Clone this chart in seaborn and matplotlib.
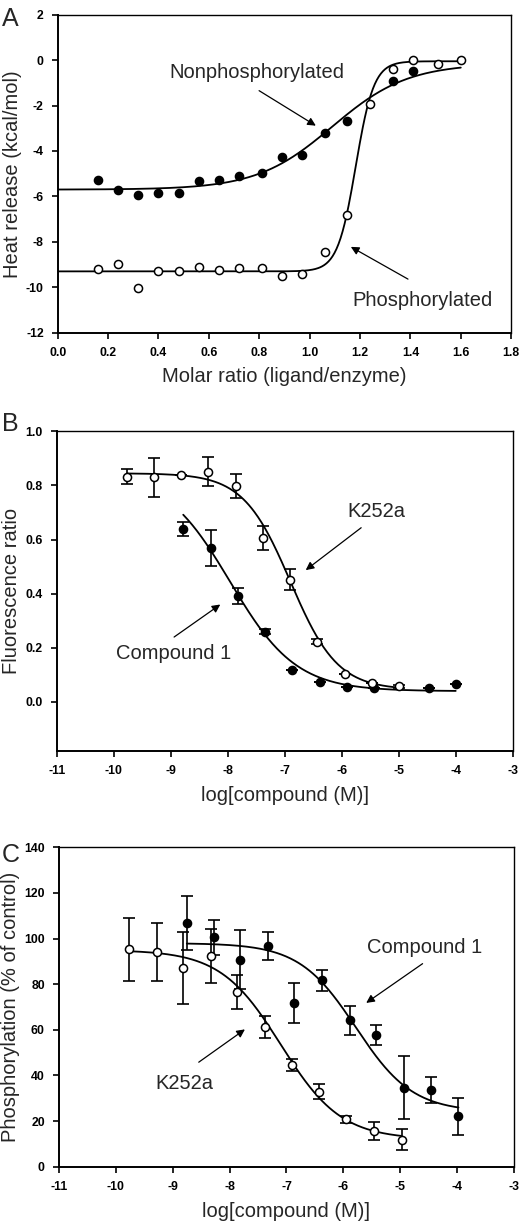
import numpy as np
import pandas as pd
import matplotlib
matplotlib.use("Agg")
import matplotlib.pyplot as plt
import seaborn as sns

# ---- panel A: ITC heat release ----
a_x_open = [0.16, 0.24, 0.32, 0.40, 0.48, 0.56, 0.64, 0.72, 0.81, 0.89, 0.97, 1.06, 1.15,
            1.24, 1.33, 1.41, 1.51, 1.60]
a_y_open = [-9.21, -8.99, -10.03, -9.27, -9.27, -9.11, -9.24, -9.14, -9.14, -9.50, -9.40, -8.46, -6.82,
            -1.94, -0.41, -0.01, -0.18, 0.0]
a_x_fill = [0.16, 0.24, 0.32, 0.40, 0.48, 0.56, 0.64, 0.72, 0.81, 0.89, 0.97, 1.06, 1.15, 1.33, 1.41]
a_y_fill = [-5.26, -5.72, -5.93, -5.87, -5.87, -5.34, -5.26, -5.09, -4.99, -4.26, -4.19, -3.19, -2.69,
            -0.91, -0.47]
# fitted curve parameters (bottom, top, midpoint, width)
a_fit_nonphos = (-5.7, -0.15, 1.09, 0.15)
a_fit_phos = (-9.3, -0.05, 1.183, 0.036)

# ---- panel B: fluorescence ratio ----
b_x_k252a = [-9.77, -9.29, -8.82, -8.34, -7.86, -7.38, -6.90, -6.43, -5.95, -5.47, -4.99]
b_y_k252a = [0.832, 0.830, 0.837, 0.851, 0.797, 0.606, 0.452, 0.223, 0.104, 0.071, 0.058]
b_e_k252a = [0.028, 0.072, 0.0, 0.053, 0.044, 0.043, 0.040, 0.010, 0.0, 0.0, 0.005]
b_x_cpd1 = [-8.78, -8.29, -7.82, -7.35, -6.87, -6.38, -5.91, -5.43, -4.46, -4.00]
b_y_cpd1 = [0.639, 0.570, 0.391, 0.260, 0.119, 0.074, 0.055, 0.050, 0.053, 0.065]
b_e_cpd1 = [0.027, 0.066, 0.030, 0.010, 0.0, 0.0, 0.0, 0.0, 0.0, 0.0]
# Hill fit: top, bottom, logIC50, slope
b_fit_k252a = (0.845, 0.045, -6.9, 1.05)
b_fit_cpd1 = (0.85, 0.04, -7.96, 0.75)

# ---- panel C: phosphorylation ----
c_x_k252a = [-9.76, -9.28, -8.81, -8.33, -7.86, -7.38, -6.91, -6.43, -5.95, -5.47, -4.98]
c_y_k252a = [95.3, 94.0, 87.1, 92.2, 76.6, 61.2, 44.7, 32.9, 20.7, 15.7, 11.9]
c_e_k252a = [13.7, 12.7, 15.6, 11.8, 7.5, 4.9, 2.6, 3.3, 1.5, 3.8, 4.7]
c_x_cpd1 = [-8.75, -8.28, -7.81, -7.33, -6.86, -6.38, -5.89, -5.42, -4.94, -4.46, -3.98]
c_y_cpd1 = [106.9, 100.6, 90.8, 96.6, 71.9, 81.7, 64.1, 57.8, 34.7, 33.5, 22.1]
c_e_cpd1 = [11.9, 7.6, 12.9, 6.2, 8.7, 4.7, 6.3, 4.5, 13.8, 5.7, 8.2]
c_fit_k252a = (95.0, 12.0, -7.1, 0.82)
c_fit_cpd1 = (98.0, 24.0, -5.78, 0.87)


def logistic(x, p):
    bottom, top, x0, w = p
    return bottom + (top - bottom) / (1 + np.exp(-(x - x0) / w))


def hill(x, p):
    top, bottom, x0, h = p
    return bottom + (top - bottom) / (1 + 10 ** ((x - x0) * h))


sns.set_style("ticks")
plt.rcParams["font.family"] = ["Liberation Sans", "DejaVu Sans"]
plt.rcParams["axes.unicode_minus"] = False

fig = plt.figure(figsize=(5.2, 12.25), dpi=100)
axA = fig.add_axes([0.111, 0.7284, 0.872, 0.2596])
axB = fig.add_axes([0.109, 0.3872, 0.877, 0.2607])
axC = fig.add_axes([0.1128, 0.0476, 0.8762, 0.2607])

pt = dict(s=34, edgecolor="black", linewidth=1.1, zorder=5)
ln = dict(color="black", linewidth=1.3, zorder=3)
lab_fs = 14.5


def style(ax):
    for side in ["left", "bottom"]:
        ax.spines[side].set_linewidth(1.4)
    for side in ["top", "right"]:
        ax.spines[side].set_linewidth(1.0)
    ax.spines[:].set_color("black")
    ax.tick_params(direction="out", length=4, width=1.2, labelsize=8.8, colors="black", pad=6)
    for lab in ax.get_xticklabels() + ax.get_yticklabels():
        lab.set_fontweight("bold")


def arrow(ax, text, xy, xytext, txt_xy):
    ax.annotate("", xy=xy, xytext=xytext,
                arrowprops=dict(arrowstyle="-|>", color="black", lw=0.9, mutation_scale=12))
    ax.text(txt_xy[0], txt_xy[1], text, fontsize=lab_fs, ha="center", va="center")


# panel A
xa = np.linspace(0, 1.6, 400)
sns.lineplot(x=xa, y=logistic(xa, a_fit_nonphos), ax=axA, **ln)
sns.lineplot(x=xa, y=logistic(xa, a_fit_phos), ax=axA, **ln)
sns.scatterplot(x=a_x_fill, y=a_y_fill, ax=axA, color="black", **pt)
sns.scatterplot(x=a_x_open, y=a_y_open, ax=axA, color="white", **pt)
axA.set_xlim(0, 1.8)
axA.set_ylim(-12, 2)
axA.set_xticks(np.arange(0, 1.81, 0.2))
axA.set_xticklabels([f"{v:.1f}" for v in np.arange(0, 1.81, 0.2)])
axA.set_yticks(range(-12, 3, 2))
axA.set_xlabel("Molar ratio (ligand/enzyme)", fontsize=lab_fs, labelpad=6)
axA.set_ylabel("Heat release (kcal/mol)", fontsize=lab_fs, labelpad=3)
arrow(axA, "Nonphosphorylated", (1.034, -2.95), (0.79, -1.28), (0.79, -0.53))
arrow(axA, "Phosphorylated", (1.154, -8.16), (1.40, -9.7), (1.45, -10.6))

# panel B
xk = np.linspace(b_x_k252a[0], b_x_k252a[-1], 300)
xc = np.linspace(b_x_cpd1[0], b_x_cpd1[-1], 300)
sns.lineplot(x=xk, y=hill(xk, b_fit_k252a), ax=axB, **ln)
sns.lineplot(x=xc, y=hill(xc, b_fit_cpd1), ax=axB, **ln)
eb = dict(fmt="none", ecolor="black", elinewidth=1.2, capsize=4, capthick=1.2, zorder=4)
axB.errorbar(b_x_k252a, b_y_k252a, yerr=b_e_k252a, **eb)
axB.errorbar(b_x_cpd1, b_y_cpd1, yerr=b_e_cpd1, **eb)
sns.scatterplot(x=b_x_cpd1, y=b_y_cpd1, ax=axB, color="black", **pt)
sns.scatterplot(x=b_x_k252a, y=b_y_k252a, ax=axB, color="white", **pt)
axB.set_xlim(-11, -3)
axB.set_ylim(-0.18, 1.0)
axB.set_xticks(range(-11, -2))
axB.set_yticks(np.arange(0, 1.01, 0.2))
axB.set_yticklabels([f"{v:.1f}" for v in np.arange(0, 1.01, 0.2)])
axB.set_xlabel("log[compound (M)]", fontsize=lab_fs, labelpad=7)
axB.set_ylabel("Fluorescence ratio", fontsize=lab_fs, labelpad=3)
arrow(axB, "K252a", (-6.67, 0.481), (-5.62, 0.65), (-5.39, 0.703))
arrow(axB, "Compound 1", (-8.09, 0.366), (-8.98, 0.234), (-8.95, 0.179))

# panel C
xk = np.linspace(c_x_k252a[0], c_x_k252a[-1], 300)
xc = np.linspace(c_x_cpd1[0], c_x_cpd1[-1], 300)
sns.lineplot(x=xk, y=hill(xk, c_fit_k252a), ax=axC, **ln)
sns.lineplot(x=xc, y=hill(xc, c_fit_cpd1), ax=axC, **ln)
axC.errorbar(c_x_k252a, c_y_k252a, yerr=c_e_k252a, **eb)
axC.errorbar(c_x_cpd1, c_y_cpd1, yerr=c_e_cpd1, **eb)
sns.scatterplot(x=c_x_cpd1, y=c_y_cpd1, ax=axC, color="black", **pt)
sns.scatterplot(x=c_x_k252a, y=c_y_k252a, ax=axC, color="white", **pt)
axC.set_xlim(-11, -3)
axC.set_ylim(0, 140)
axC.set_xticks(range(-11, -2))
axC.set_yticks(range(0, 141, 20))
axC.set_xlabel("log[compound (M)]", fontsize=lab_fs, labelpad=7)
axC.set_ylabel("Phosphorylation (% of control)", fontsize=lab_fs, labelpad=3)
arrow(axC, "Compound 1", (-5.64, 71.1), (-4.57, 89.7), (-4.57, 96.3))
arrow(axC, "K252a", (-7.69, 60.9), (-8.58, 45.1), (-8.80, 36.4))

for ax in (axA, axB, axC):
    style(ax)

fig.text(0.003, 0.994, "A", fontsize=18, va="top", ha="left")
fig.text(0.003, 0.664, "B", fontsize=18, va="top", ha="left")
fig.text(0.003, 0.312, "C", fontsize=18, va="top", ha="left")

fig.savefig("out.png", dpi=100)
